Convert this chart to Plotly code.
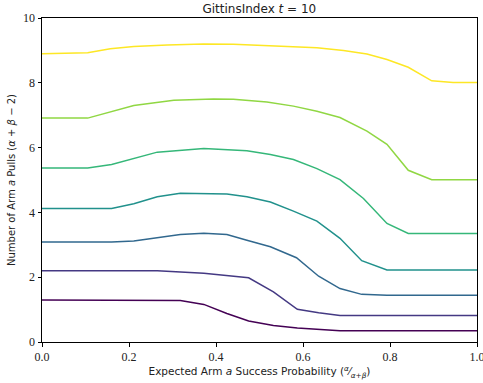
import plotly.graph_objects as go

# contour polylines (x, y), lowest level to highest
l1_x = [0.0, 0.265, 0.318, 0.372, 0.425, 0.475, 0.532, 0.587, 0.636, 0.685, 1.0]
l1_y = [1.30, 1.30, 1.28, 1.16, 0.88, 0.65, 0.51, 0.43, 0.38, 0.35, 0.35]

l2_x = [0.0, 0.265, 0.372, 0.475, 0.532, 0.587, 0.636, 0.685, 1.0]
l2_y = [2.20, 2.20, 2.12, 1.98, 1.55, 1.01, 0.90, 0.82, 0.82]

l3_x = [0.0, 0.16, 0.211, 0.265, 0.318, 0.372, 0.425, 0.471, 0.525, 0.585, 0.636, 0.685, 0.735, 0.793, 1.0]
l3_y = [3.09, 3.09, 3.12, 3.23, 3.32, 3.36, 3.32, 3.14, 2.94, 2.60, 2.03, 1.65, 1.47, 1.44, 1.44]

l4_x = [0.0, 0.16, 0.211, 0.265, 0.318, 0.372, 0.425, 0.471, 0.525, 0.578, 0.632, 0.685, 0.735, 0.793, 1.0]
l4_y = [4.12, 4.12, 4.27, 4.48, 4.59, 4.59, 4.57, 4.48, 4.32, 4.04, 3.73, 3.20, 2.51, 2.22, 2.22]

l5_x = [0.0, 0.105, 0.16, 0.211, 0.265, 0.372, 0.471, 0.525, 0.578, 0.632, 0.685, 0.739, 0.793, 0.842, 1.0]
l5_y = [5.37, 5.37, 5.48, 5.66, 5.86, 5.97, 5.90, 5.79, 5.63, 5.35, 5.01, 4.43, 3.66, 3.35, 3.35]

l6_x = [0.0, 0.105, 0.211, 0.303, 0.394, 0.44, 0.517, 0.578, 0.632, 0.685, 0.747, 0.793, 0.842, 0.896, 1.0]
l6_y = [6.91, 6.91, 7.30, 7.46, 7.50, 7.49, 7.41, 7.28, 7.12, 6.93, 6.51, 6.10, 5.30, 5.01, 5.01]

l7_x = [0.0, 0.105, 0.157, 0.211, 0.288, 0.371, 0.44, 0.555, 0.632, 0.693, 0.747, 0.793, 0.842, 0.896, 0.945, 1.0]
l7_y = [8.90, 8.93, 9.05, 9.12, 9.17, 9.20, 9.19, 9.13, 9.08, 9.00, 8.89, 8.72, 8.48, 8.06, 8.01, 8.01]

colors = ["#440154", "#443983", "#31688e", "#21918c", "#35b779", "#90d743", "#fde725"]
series = [(l1_x, l1_y), (l2_x, l2_y), (l3_x, l3_y), (l4_x, l4_y),
          (l5_x, l5_y), (l6_x, l6_y), (l7_x, l7_y)]

x_ticks = [0.0, 0.2, 0.4, 0.6, 0.8, 1.0]
y_ticks = [0, 2, 4, 6, 8, 10]

fig = go.Figure()
for (xs, ys), c in zip(series, colors):
    fig.add_trace(go.Scatter(x=xs, y=ys, mode="lines",
                             line=dict(color=c, width=1.5), showlegend=False,
                             hoverinfo="skip"))

tickfont = dict(family="Liberation Serif", size=12, color="#222")
axis_common = dict(showgrid=False, zeroline=False, showline=True, linecolor="black",
                   linewidth=1, mirror=True, ticks="outside", ticklen=3.5,
                   tickwidth=1, tickcolor="black", tickfont=tickfont,
                   ticklabeloverflow="allow")

fig.update_layout(
    width=483, height=383,
    margin=dict(l=41.5, r=6, t=17.5, b=41, autoexpand=False),
    paper_bgcolor="white", plot_bgcolor="white",
    font=dict(family="DejaVu Sans, sans-serif", size=11, color="#222"),
    title=dict(text="GittinsIndex <i>t</i> = 10", x=0.537, xanchor="center",
               y=1 - 8.5 / 383, yanchor="middle", font=dict(size=12, color="#222")),
    xaxis=dict(range=[0, 1], tickvals=x_ticks, ticktext=[f"{v:.1f}" for v in x_ticks],
               title=dict(text="Expected Arm <i>a</i> Success Probability (<sup><i>α</i></sup>⁄<sub><i>α</i>+<i>β</i></sub>)",
                          font=dict(size=10.5), standoff=0),
               **axis_common),
    yaxis=dict(range=[0, 10], tickvals=y_ticks, ticktext=[str(v) for v in y_ticks],
               title=dict(text="Number of Arm <i>a</i> Pulls (<i>α</i> + <i>β</i> − 2)",
                          font=dict(size=10), standoff=5),
               **axis_common),
)

fig.write_html("out.html", config={"displayModeBar": False},
               post_script="document.body.style.margin='0';")
